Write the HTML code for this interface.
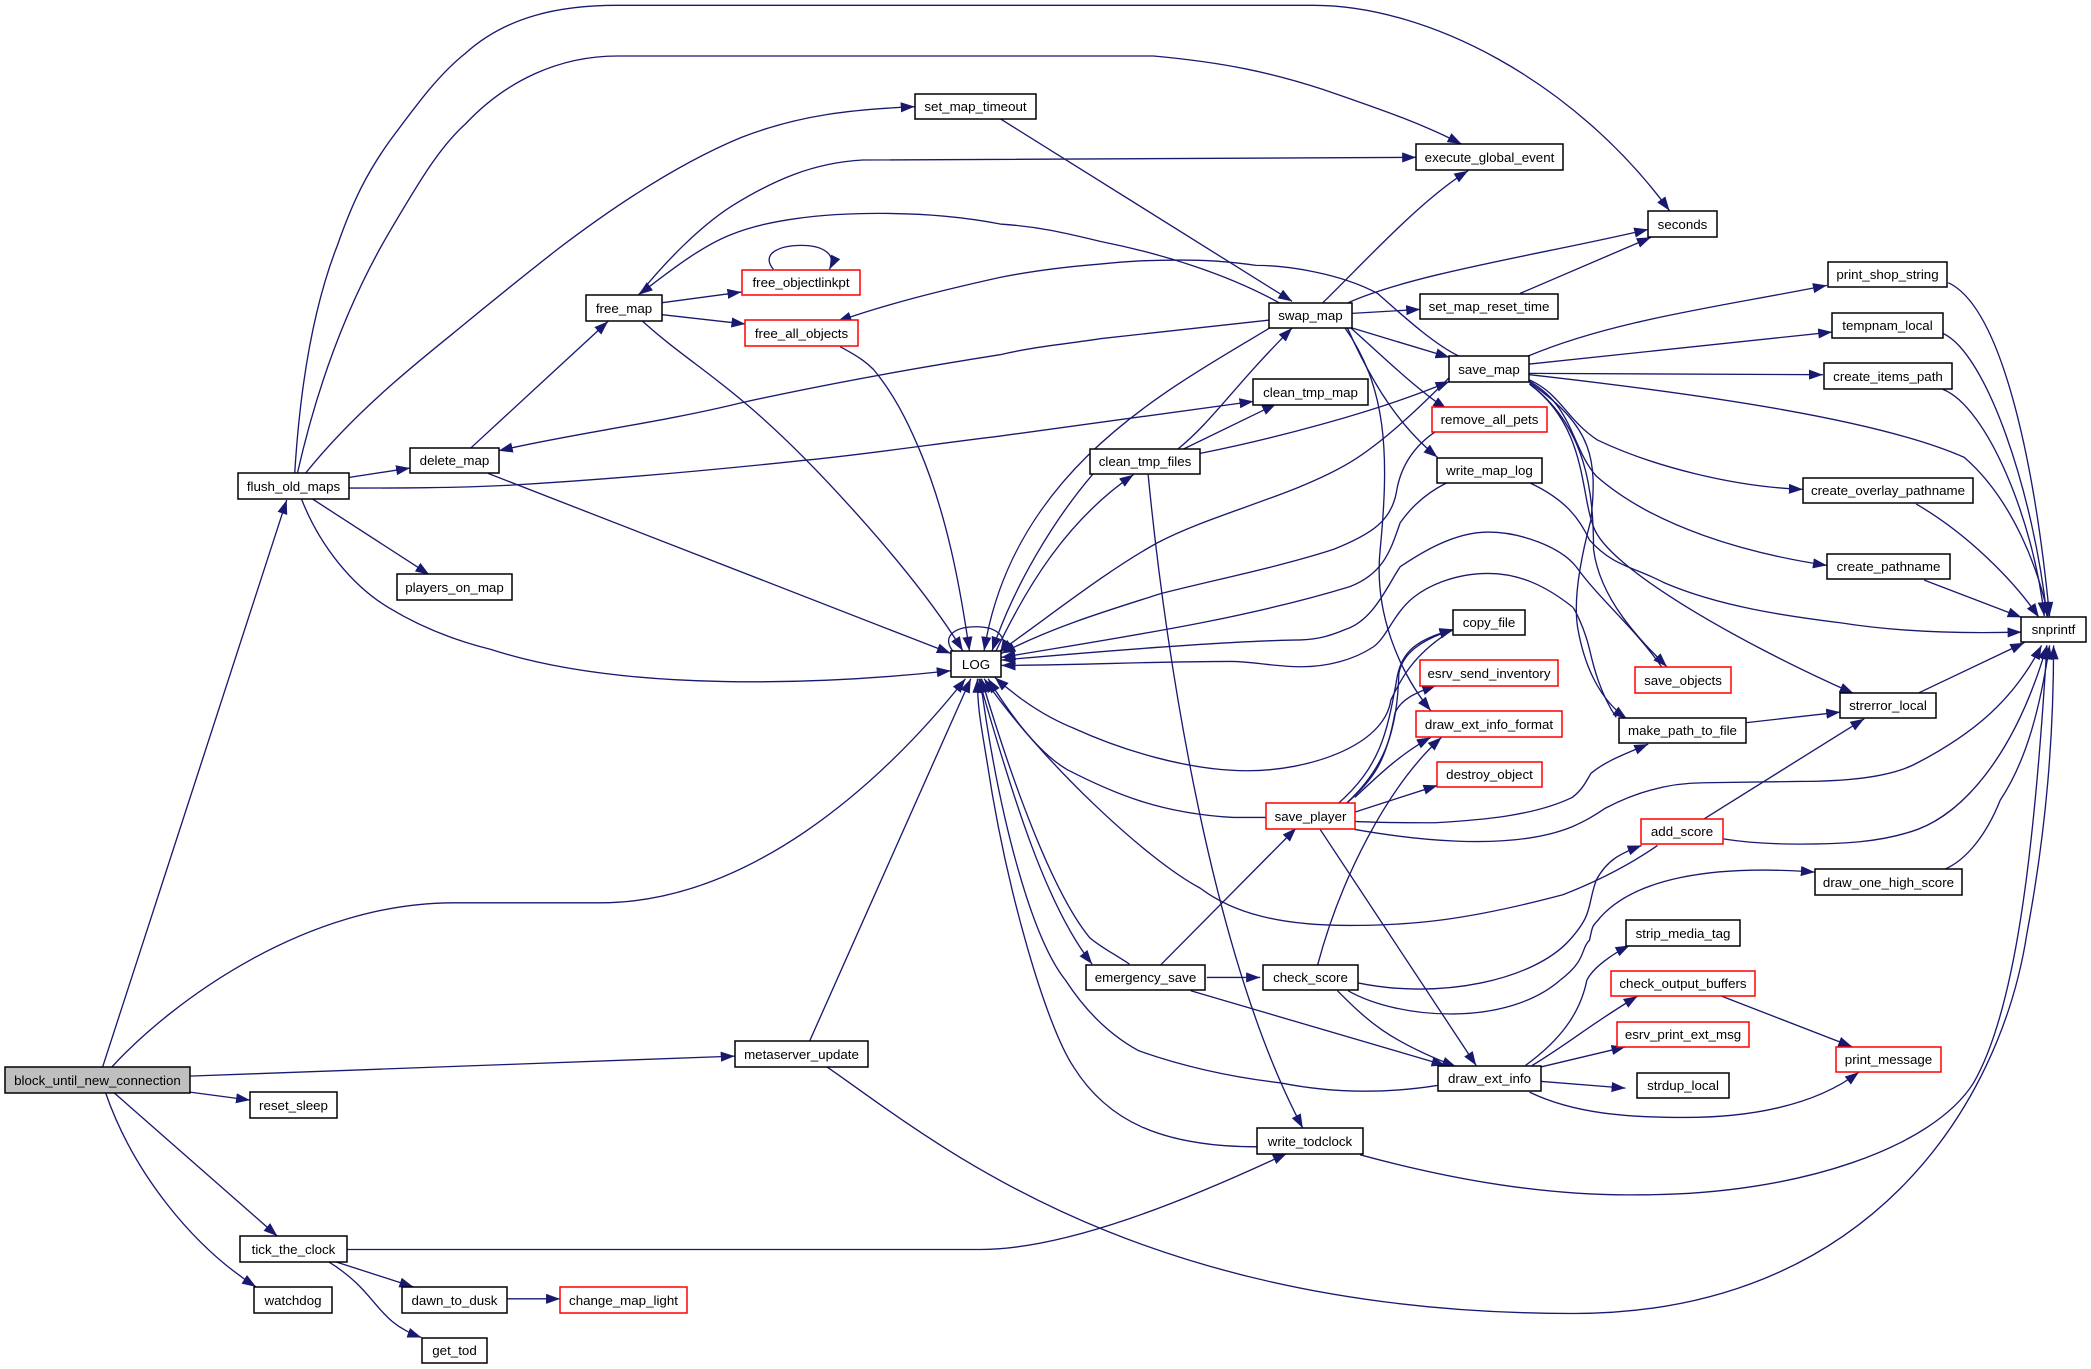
<!DOCTYPE html>
<html><head><meta charset="utf-8"><title>Call graph</title>
<style>
html,body{margin:0;padding:0;background:#fff;width:2091px;height:1369px;overflow:hidden}
svg{display:block;filter:blur(0.3px)}
text{font-family:"Liberation Sans",sans-serif;font-size:13.33px;fill:#000;text-anchor:middle}
rect{fill:#fff;stroke:#000;stroke-width:1.5}
rect.r{stroke:#f00}
rect.g{fill:#bfbfbf}
#e path{fill:none;stroke:#191970;stroke-width:1;marker-end:url(#a)}
</style></head><body>
<svg width="2091" height="1369" viewBox="0 0 2091 1369" xmlns="http://www.w3.org/2000/svg">
<defs><marker id="a" markerUnits="userSpaceOnUse" markerWidth="12" markerHeight="9" refX="10.5" refY="3.8" orient="auto"><path d="M0 0L10.5 3.8L0 7.6Z" fill="#191970" stroke="none"/></marker></defs>
<g id="e" transform="scale(1.3335)">
<path d="M77 800L215 375"/>
<path d="M84 800C130 750 230 677 340 677L450 677C560 677 660 590 724 509"/>
<path d="M142 807L551 792"/>
<path d="M142.500 819L187.500 825"/>
<path d="M85 819L208 927"/>
<path d="M79 819C100 880 145 935 192 965"/>
<path d="M260 937L735 937C800 937 890 900 965 865"/>
<path d="M251 946L310 965"/>
<path d="M246 946C285 970 280 990 316 1003"/>
<path d="M380 974L420 974"/>
<path d="M221 355C225 290 235 230 253 184C265 150 275 130 292 106C315 75 330 55 349 40C380 12 420 4 463 4L985 4C1070 4 1180 60 1252 158"/>
<path d="M223 355C240 280 265 220 292 174C315 135 330 110 349 93C380 60 420 42 463 42L865 42C920 47 955 55 992 67C1035 82 1065 92 1096 108"/>
<path d="M229 355C265 310 310 274 341 249C370 225 395 205 418 187C460 155 510 122 556 103C600 86 640 82 686 80"/>
<path d="M262 358L307.500 351"/>
<path d="M262 366C300 366 340 366 380 364C450 360 530 353 605 345C655 340 700 333 750 327L940 301"/>
<path d="M234 374L322 431"/>
<path d="M226 374C240 410 265 440 292 456C315 470 340 480 368 487C470 520 620 513 713 503"/>
<path d="M353 336L456 241"/>
<path d="M366 355L713 490"/>
<path d="M952 240L825 254C800 258 775 260 750 266C680 277 620 288 556 302C495 317 430 325 374 338"/>
<path d="M961 228C920 205 870 190 825 181C800 175 780 170 750 168C720 162 690 160 659 160C615 160 575 165 548 176C525 185 500 205 479 221"/>
<path d="M479 221C500 195 525 170 548 155C580 135 610 122 647 120L1062 118"/>
<path d="M496.600 227L556 219"/>
<path d="M496.600 236L559 243"/>
<path d="M482 241C505 262 530 278 556 300C590 328 622 362 651 395C680 428 705 460 722 488"/>
<path d="M630 260C645 268 650 272 655 277C670 295 680 315 689 336C710 385 720 440 727 488"/>
<path d="M580 202C570 190 585 184 601 184C616 184 628 190 622 202"/>
<path d="M750 89L969 226"/>
<path d="M992 227C1020 200 1065 150 1101 128"/>
<path d="M1011 227C1060 205 1160 190 1236 172"/>
<path d="M1140 220L1238 178"/>
<path d="M1014 235L1065 232"/>
<path d="M1014 246L1087 268"/>
<path d="M952 246C880 290 760 350 738 488"/>
<path d="M1012 245C1040 270 1060 290 1085 307"/>
<path d="M1010 245C1030 290 1050 320 1078 343"/>
<path d="M1008 245C1040 290 1042 340 1035 412C1030 460 1050 505 1073 533"/>
<path d="M883 337C910 315 925 290 969 246"/>
<path d="M887 337L957 303"/>
<path d="M900 340C950 330 1030 310 1087 286"/>
<path d="M820 355C790 390 760 440 744 488"/>
<path d="M747 488C770 440 800 390 850 356"/>
<path d="M861 356C875 500 910 720 977 846"/>
<path d="M1094 267C1075 258 1050 235 1033 220C1005 205 965 199 942 199C920 196 905 195 885 195C860 195 845 196 825 198C800 200 775 203 750 208C705 218 665 228 628 241"/>
<path d="M1146 267C1210 240 1290 230 1370 214"/>
<path d="M1147 273L1374 249"/>
<path d="M1147 280L1367 281"/>
<path d="M1147 281C1280 296 1410 315 1473 343C1510 375 1530 430 1536 463"/>
<path d="M1147 285C1170 295 1175 315 1198 330C1240 350 1300 365 1352 367"/>
<path d="M1147 286C1180 305 1178 335 1197 357C1240 395 1310 415 1370 424"/>
<path d="M1147 288C1190 320 1185 370 1195 395C1205 425 1300 480 1390 520"/>
<path d="M1147 288C1190 320 1195 370 1195 412C1200 450 1230 480 1250 500"/>
<path d="M1147 287C1195 320 1198 345 1193 390C1185 420 1180 450 1183 470C1188 500 1200 525 1220 539"/>
<path d="M1087 283C1070 300 1040 330 1012 347C970 372 910 385 868 407C830 428 790 460 749 489"/>
<path d="M1076 324C1060 335 1050 350 1047 370C1043 390 1030 400 1000 412C960 425 910 435 871 445C830 458 790 470 751 490"/>
<path d="M1085 362C1065 372 1055 385 1050 392C1043 412 1038 430 1012 440C930 465 840 478 751 493"/>
<path d="M1147 362C1175 375 1185 390 1192 405C1210 425 1225 425 1248 437C1290 455 1340 462 1380 467C1430 475 1480 475 1516 474"/>
<path d="M1246 500C1225 470 1200 450 1182 425C1170 410 1140 399 1116 399C1090 399 1065 415 1050 425C1040 440 1030 465 1009 472C995 478 985 480 970 480C920 481 830 488 751 495"/>
<path d="M1212 538C1200 520 1195 500 1192 487C1188 470 1180 455 1179 455C1160 440 1140 430 1116 430C1090 430 1070 440 1060 448C1045 460 1040 478 1030 485C1015 495 995 500 976 500C955 500 940 496 923 496C860 496 810 499 751 499"/>
<path d="M1090 472C1060 490 1050 510 1043 525C1038 560 980 578 936 578C890 578 840 562 805 546C785 538 765 525 746 508"/>
<path d="M950 613L925 613C870 610 835 595 800 577C780 565 760 540 741 509"/>
<path d="M1243 634C1220 650 1195 662 1172 671C1100 690 1060 694 1012 694C960 694 925 685 900 666C860 645 780 570 738 509"/>
<path d="M1003 603C1035 575 1040 550 1047 512C1050 490 1060 480 1090 472"/>
<path d="M1009 603C1040 575 1048 545 1049 505C1052 490 1065 480 1090 472"/>
<path d="M1009 603C1030 585 1040 570 1046 535C1050 525 1060 520 1077 514"/>
<path d="M1016 598C1030 585 1050 565 1073 553"/>
<path d="M1016 609L1078 589"/>
<path d="M1016 616C1035 617 1055 617 1076 617C1110 615 1150 612 1179 598C1187 592 1190 585 1193 580C1205 570 1220 565 1236 558"/>
<path d="M1016 622C1050 628 1130 640 1179 620C1190 615 1195 612 1204 606C1225 595 1250 587 1278 587L1349 586C1390 586 1420 582 1438 572C1480 550 1510 525 1531 484"/>
<path d="M1292 629C1310 632 1330 633 1349 633C1380 633 1410 632 1438 622C1470 610 1510 570 1535 484"/>
<path d="M1458 652C1475 645 1490 625 1500 600C1520 570 1530 530 1537 484"/>
<path d="M1278 614L1398 539"/>
<path d="M1438 520L1518 482"/>
<path d="M1309 542L1380 534"/>
<path d="M1461 212C1500 230 1525 340 1537 462"/>
<path d="M1457 250C1490 265 1525 370 1535 462"/>
<path d="M1457 292C1490 305 1525 390 1533 462"/>
<path d="M1437 378C1475 400 1510 435 1529 463"/>
<path d="M1443 435L1516 463"/>
<path d="M620 800C700 855 850 985 1180 985C1400 985 1500 830 1520 700C1535 620 1540 550 1540 484"/>
<path d="M1020 866C1090 885 1160 897 1230 896C1350 896 1450 860 1480 812C1510 760 1525 650 1535 484"/>
<path d="M607 781L728 509"/>
<path d="M943 860C870 860 830 840 805 800C785 770 755 670 740 570C735 540 733 530 733 509"/>
<path d="M1078 814C1040 820 1000 820 960 812C900 805 860 790 854 788C830 775 812 755 799 735C775 705 750 620 735 509"/>
<path d="M847 723C835 715 825 710 817 703C790 670 760 590 736 509"/>
<path d="M734 509C760 600 785 680 819 723"/>
<path d="M870 724L972 621"/>
<path d="M905 733L945 733"/>
<path d="M893 743L1084 799"/>
<path d="M988 724C1005 660 1040 590 1081 553"/>
<path d="M1018 737C1080 750 1150 735 1177 705C1195 685 1190 680 1197 660C1205 645 1215 640 1231 634"/>
<path d="M1011 743C1050 765 1130 770 1170 735C1190 720 1185 712 1192 705C1195 690 1195 695 1200 688C1225 660 1280 648 1361 654"/>
<path d="M1003 743C1025 765 1040 780 1092 800"/>
<path d="M990 622L1107 799"/>
<path d="M1144 799C1170 780 1185 760 1190 735C1195 725 1210 715 1222 709"/>
<path d="M1149 799C1180 780 1190 770 1228 747"/>
<path d="M1156 800L1219 785"/>
<path d="M1156 811L1219 816"/>
<path d="M1147 819C1180 835 1220 838 1263 838C1310 838 1360 830 1394 804"/>
<path d="M1291 747L1389 785"/>
<path d="M716 490C705 478 715 470 732 470C748 470 757 478 750 490"/>
</g>
<rect class="g" x="5" y="1067" width="185" height="26"/><text x="97.500" y="1085">block_until_new_connection</text>
<rect x="250" y="1092" width="87" height="26"/><text x="293.500" y="1110">reset_sleep</text>
<rect x="240" y="1236" width="107" height="26"/><text x="293.500" y="1254">tick_the_clock</text>
<rect x="254" y="1287" width="78" height="26"/><text x="293" y="1305">watchdog</text>
<rect x="402" y="1287" width="105" height="26"/><text x="454.500" y="1305">dawn_to_dusk</text>
<rect class="r" x="560" y="1287" width="127" height="26"/><text x="623.500" y="1305">change_map_light</text>
<rect x="422" y="1338" width="65" height="25"/><text x="454.500" y="1355">get_tod</text>
<rect x="951" y="651" width="50" height="26"/><text x="976" y="669">LOG</text>
<rect x="1453" y="610" width="72" height="25"/><text x="1489" y="627">copy_file</text>
<rect class="r" x="1420" y="660" width="138" height="26"/><text x="1489" y="678">esrv_send_inventory</text>
<rect class="r" x="1416" y="711" width="146" height="26"/><text x="1489" y="729">draw_ext_info_format</text>
<rect class="r" x="1437" y="762" width="105" height="25"/><text x="1489.500" y="779">destroy_object</text>
<rect class="r" x="1266" y="803" width="89" height="26"/><text x="1310.500" y="821">save_player</text>
<rect x="238" y="473" width="111" height="26"/><text x="293.500" y="491">flush_old_maps</text>
<rect x="410" y="448" width="89" height="25"/><text x="454.500" y="465">delete_map</text>
<rect x="397" y="574" width="115" height="26"/><text x="454.500" y="592">players_on_map</text>
<rect x="586" y="295" width="76" height="26"/><text x="624" y="313">free_map</text>
<rect class="r" x="742" y="270" width="118" height="25"/><text x="801" y="287">free_objectlinkpt</text>
<rect class="r" x="745" y="320" width="113" height="26"/><text x="801.500" y="338">free_all_objects</text>
<rect x="915" y="94" width="121" height="25"/><text x="975.500" y="111">set_map_timeout</text>
<rect x="1416" y="144" width="147" height="26"/><text x="1489.500" y="162">execute_global_event</text>
<rect x="1648" y="211" width="69" height="26"/><text x="1682.500" y="229">seconds</text>
<rect x="1269" y="303" width="83" height="25"/><text x="1310.500" y="320">swap_map</text>
<rect x="1420" y="294" width="138" height="25"/><text x="1489" y="311">set_map_reset_time</text>
<rect x="1449" y="356" width="80" height="26"/><text x="1489" y="374">save_map</text>
<rect x="1253" y="379" width="115" height="26"/><text x="1310.500" y="397">clean_tmp_map</text>
<rect x="1090" y="449" width="110" height="25"/><text x="1145" y="466">clean_tmp_files</text>
<rect class="r" x="1432" y="407" width="115" height="25"/><text x="1489.500" y="424">remove_all_pets</text>
<rect x="1437" y="458" width="105" height="25"/><text x="1489.500" y="475">write_map_log</text>
<rect class="r" x="1635" y="667" width="96" height="26"/><text x="1683" y="685">save_objects</text>
<rect x="1619" y="718" width="127" height="25"/><text x="1682.500" y="735">make_path_to_file</text>
<rect x="1840" y="693" width="96" height="25"/><text x="1888" y="710">strerror_local</text>
<rect x="1828" y="262" width="119" height="25"/><text x="1887.500" y="279">print_shop_string</text>
<rect x="1832" y="313" width="111" height="25"/><text x="1887.500" y="330">tempnam_local</text>
<rect x="1824" y="363" width="128" height="26"/><text x="1888" y="381">create_items_path</text>
<rect x="1803" y="478" width="170" height="25"/><text x="1888" y="495">create_overlay_pathname</text>
<rect x="1827" y="554" width="123" height="25"/><text x="1888.500" y="571">create_pathname</text>
<rect x="2021" y="617" width="65" height="25"/><text x="2053.500" y="634">snprintf</text>
<rect x="1815" y="869" width="147" height="26"/><text x="1888.500" y="887">draw_one_high_score</text>
<rect x="1626" y="920" width="114" height="26"/><text x="1683" y="938">strip_media_tag</text>
<rect class="r" x="1611" y="971" width="144" height="25"/><text x="1683" y="988">check_output_buffers</text>
<rect class="r" x="1617" y="1022" width="132" height="25"/><text x="1683" y="1039">esrv_print_ext_msg</text>
<rect class="r" x="1836" y="1047" width="105" height="25"/><text x="1888.500" y="1064">print_message</text>
<rect x="1637" y="1073" width="92" height="25"/><text x="1683" y="1090">strdup_local</text>
<rect x="1438" y="1066" width="103" height="25"/><text x="1489.500" y="1083">draw_ext_info</text>
<rect x="1086" y="965" width="119" height="25"/><text x="1145.500" y="982">emergency_save</text>
<rect x="1263" y="965" width="95" height="25"/><text x="1310.500" y="982">check_score</text>
<rect x="1257" y="1128" width="106" height="26"/><text x="1310" y="1146">write_todclock</text>
<rect class="r" x="1641" y="819" width="82" height="25"/><text x="1682" y="836">add_score</text>
<rect x="735" y="1041" width="133" height="26"/><text x="801.500" y="1059">metaserver_update</text>
</svg>
</body></html>
